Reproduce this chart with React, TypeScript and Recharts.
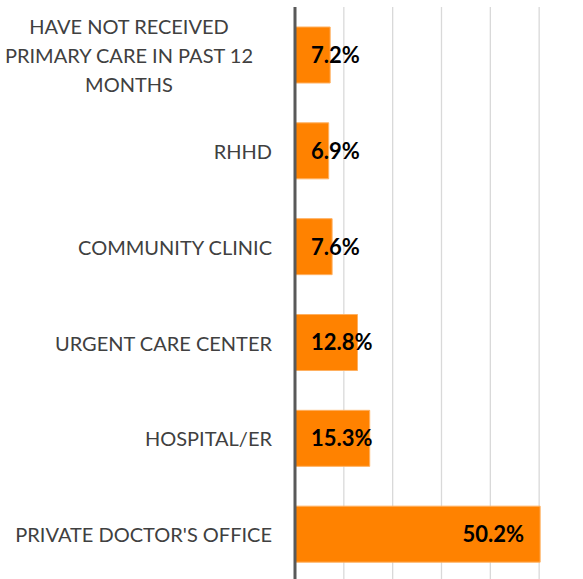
import { BarChart, Bar, XAxis, YAxis, CartesianGrid, LabelList } from "recharts";

// Where people get primary care (share of respondents, %)
const categories = [
  "HAVE NOT RECEIVED PRIMARY CARE IN PAST 12 MONTHS",
  "RHHD",
  "COMMUNITY CLINIC",
  "URGENT CARE CENTER",
  "HOSPITAL/ER",
  "PRIVATE DOCTOR'S OFFICE",
];
const values = [7.2, 6.9, 7.6, 12.8, 15.3, 50.2];
const xTicks = [0, 10, 20, 30, 40, 50, 60];

const data = categories.map((name, i) => ({ name, value: values[i] }));

const LABEL_FONT = "Lato, 'Open Sans', sans-serif";

// greedy wrap, roughly how Excel breaks the long category name
function wrap(text: string, maxChars = 23): string[] {
  const lines: string[] = [];
  let cur = "";
  for (const w of text.split(" ")) {
    const next = cur ? cur + " " + w : w;
    if (next.length > maxChars && cur) {
      lines.push(cur);
      cur = w;
    } else {
      cur = next;
    }
  }
  if (cur) lines.push(cur);
  return lines;
}

let ctx: CanvasRenderingContext2D | null = null;
function textWidth(s: string, font: string) {
  if (!ctx) ctx = document.createElement("canvas").getContext("2d");
  if (!ctx) return s.length * 11;
  ctx.font = font;
  return ctx.measureText(s).width;
}

function CategoryTick({ x, y, payload }: any) {
  const lines = wrap(String(payload.value));
  const pitch = 29;
  const top = y - ((lines.length - 1) * pitch) / 2;
  const multi = lines.length > 1;
  return (
    <g>
      {lines.map((ln, i) => (
        <text
          key={i}
          x={multi ? x - 143 : x}
          y={top + i * pitch + 1}
          dy="0.36em"
          textAnchor={multi ? "middle" : "end"}
          fill="#404040"
          fontSize={20}
          fontFamily={LABEL_FONT}
        >
          {ln}
        </text>
      ))}
    </g>
  );
}

function ValueLabel({ x, y, width, height, value }: any) {
  const txt = `${Number(value).toFixed(1)}%`;
  const w = textWidth(txt, `bold 22px ${LABEL_FONT}`);
  const right = Math.max(x + width - 16, x + 16 + w);
  return (
    <text
      x={right}
      y={y + height / 2}
      dy="0.36em"
      textAnchor="end"
      fill="#000000"
      fontSize={22}
      fontWeight="bold"
      fontFamily={LABEL_FONT}
    >
      {txt}
    </text>
  );
}

export default function App() {
  return (
    <div style={{ position: "fixed", left: 0, top: 0, width: 583, height: 579, overflow: "hidden", background: "#fff" }}>
      <BarChart
        width={600}
        height={582}
        data={data}
        layout="vertical"
        margin={{ top: 7, right: 12, bottom: 0, left: 0 }}
      >
        <CartesianGrid horizontal={false} stroke="#d9d9d9" strokeWidth={1.3} />
        <XAxis type="number" domain={[0, 60]} ticks={xTicks} hide />
        <YAxis
          type="category"
          dataKey="name"
          width={295}
          axisLine={{ stroke: "#595959", strokeWidth: 3 }}
          tickLine={false}
          tick={<CategoryTick />}
          tickMargin={17}
          interval={0}
        />
        <Bar
          dataKey="value"
          fill="#ff8200"
          stroke="#ffb060"
          strokeWidth={1}
          barSize={56}
          isAnimationActive={false}
        >
          <LabelList dataKey="value" content={<ValueLabel />} />
        </Bar>
      </BarChart>
    </div>
  );
}
